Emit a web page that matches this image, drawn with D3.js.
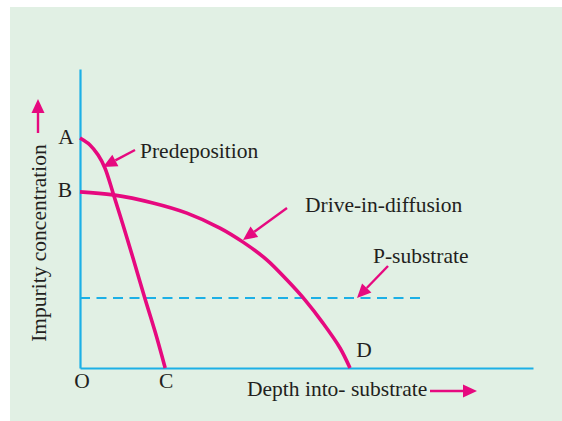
<!DOCTYPE html>
<html>
<head>
<meta charset="utf-8">
<script src="https://cdn.jsdelivr.net/npm/d3@7"></script>
<style>
  body { margin: 0; background: #ffffff; }
  svg text { font-family: "Liberation Serif", "Times New Roman", serif; fill: #231f20; }
</style>
</head>
<body>
<div id="chart"></div>
<script>
// Profile data (depth, concentration) in arbitrary units
const predeposition = [
    [0, 7.69], [0.22, 7.46], [0.40, 7.12], [0.55, 6.69], [0.73, 5.85],
    [0.95, 4.78], [1.17, 3.68], [1.43, 2.34], [1.66, 1.20], [1.88, 0]
];
const driveIn = [
    [0, 5.89], [0.73, 5.79], [1.61, 5.52], [2.36, 5.18], [3.09, 4.68],
    [3.60, 4.21], [4.13, 3.61], [4.57, 2.94], [4.97, 2.27], [5.36, 1.51],
    [5.74, 0.67], [5.96, 0]
];
const substrateLevel = 2.34;
const substrateEnd = 7.55;
const pointLabels = ["A", "B", "O", "C", "D"];
const curveLabels = ["Predeposition", "Drive-in-diffusion", "P-substrate"];
const axisTitles = ["Impurity concentration", "Depth into- substrate"];

const width = 562, height = 421;
const pink = "#e6097f", blue = "#1cb0e6";
const fontSize = 21.5;

const svg = d3.select("#chart")
    .append("svg")
    .attr("width", width)
    .attr("height", height);

// Panel background
svg.append("rect")
    .attr("x", 10)
    .attr("y", 7)
    .attr("width", width - 10)
    .attr("height", height - 7)
    .attr("fill", "#e1f0e4");

// Scales
const x = d3.scaleLinear().domain([0, 10]).range([80, 533]);
const y = d3.scaleLinear().domain([0, 10]).range([368, 69]);

// Axes (no ticks, just the lines)
svg.append("g")
    .attr("transform", `translate(0,${y(0)})`)
    .call(d3.axisBottom(x).tickValues([]).tickSizeOuter(0));
svg.append("g")
    .attr("transform", `translate(${x(0)},0)`)
    .call(d3.axisLeft(y).tickValues([]).tickSizeOuter(0));
svg.selectAll(".domain")
    .attr("stroke", blue)
    .attr("stroke-width", 2.2);

// P-substrate dashed level
svg.append("line")
    .attr("x1", x(0))
    .attr("x2", x(substrateEnd))
    .attr("y1", y(substrateLevel))
    .attr("y2", y(substrateLevel))
    .attr("stroke", blue)
    .attr("stroke-width", 2)
    .attr("stroke-dasharray", "10 6.5");

// Profiles
const line = d3.line()
    .x(d => x(d[0]))
    .y(d => y(d[1]))
    .curve(d3.curveCatmullRom.alpha(0.5));

[driveIn, predeposition].forEach(data => {
    svg.append("path")
        .attr("fill", "none")
        .attr("stroke", pink)
        .attr("stroke-width", 3.6)
        .attr("d", line(data));
});

// Arrow helper: line plus filled head
function arrow(x1, y1, x2, y2) {
    const a = Math.atan2(y2 - y1, x2 - x1);
    const len = 14, half = 6.5;
    const bx = x2 - len * Math.cos(a), by = y2 - len * Math.sin(a);
    svg.append("line")
        .attr("x1", x1).attr("y1", y1)
        .attr("x2", bx).attr("y2", by)
        .attr("stroke", pink)
        .attr("stroke-width", 2.4);
    const pts = [
        [x2, y2],
        [bx + half * Math.sin(a), by - half * Math.cos(a)],
        [bx - half * Math.sin(a), by + half * Math.cos(a)]
    ];
    svg.append("polygon")
        .attr("points", pts.map(p => p.join(",")).join(" "))
        .attr("fill", pink);
}

function label(px, py, txt, anchor) {
    svg.append("text")
        .attr("x", px)
        .attr("y", py)
        .attr("text-anchor", anchor || "start")
        .attr("font-size", fontSize)
        .text(txt);
}

// Point labels
label(66, y(predeposition[0][1]) + 6, pointLabels[0], "middle");
label(65, y(driveIn[0][1]) + 5, pointLabels[1], "middle");
label(x(0) + 2, y(0) + 20, pointLabels[2], "middle");
label(x(predeposition[predeposition.length - 1][0]) + 1, y(0) + 20, pointLabels[3], "middle");
label(x(driveIn[driveIn.length - 1][0]) + 14, y(0) - 11, pointLabels[4], "middle");

// Curve labels with pointer arrows
label(140, 158, curveLabels[0]);
arrow(135, 150, 103, 167);

label(305, 212, curveLabels[1]);
arrow(287, 208, 243, 240);

label(373, 263, curveLabels[2]);
arrow(388, 266, 357, y(substrateLevel));

// Axis titles
svg.append("text")
    .attr("transform", "translate(46,243) rotate(-90)")
    .attr("text-anchor", "middle")
    .attr("font-size", fontSize)
    .text(axisTitles[0]);
arrow(38, 133, 38, 99);

label(247, 396, axisTitles[1]);
arrow(430, 391, 477, 391);
</script>
</body>
</html>
